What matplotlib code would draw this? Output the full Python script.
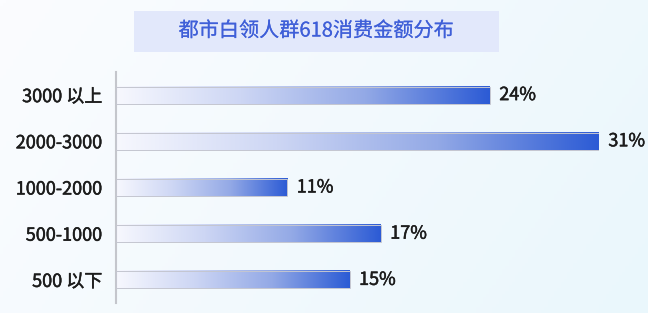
import numpy as np
import matplotlib.pyplot as plt
import matplotlib.patheffects as pe
from matplotlib.colors import LinearSegmentedColormap
from matplotlib.patches import Rectangle

plt.rcParams['font.family'] = ['Noto Sans CJK SC', 'DejaVu Sans']

# Data
categories = ['3000 以上', '2000-3000', '1000-2000', '500-1000', '500 以下']
shares = [24, 31, 11, 17, 15]
title = '都市白领人群618消费金额分布'

W, H = 648, 313
fig = plt.figure(figsize=(W / 100, H / 100), dpi=100)

# background gradient
bg = fig.add_axes([0, 0, 1, 1], zorder=0)
gx = np.linspace(0, 1, 200)
gy = np.linspace(0, 1, 100)
GX, GY = np.meshgrid(gx, gy)
g = np.clip(0.75 * GX + 0.25 * GY, 0, 1)
bg_cmap = LinearSegmentedColormap.from_list('bg', ['#fbfcff', '#eaf7fc'])
bg.imshow(g, cmap=bg_cmap, aspect='auto', extent=(0, 1, 0, 1), origin='upper')
bg.set_xlim(0, 1)
bg.set_ylim(0, 1)
bg.axis('off')

# title box
fig.patches.append(Rectangle((134 / W, 1 - 52 / H), 365 / W, 41 / H,
                             transform=fig.transFigure, facecolor='#e2e8fb',
                             edgecolor='none', zorder=1))
fig.text(316 / W, 1 - 31 / H, title, ha='center', va='center',
         fontsize=14.5, color='#3f5fd8', zorder=2,
         path_effects=[pe.withStroke(linewidth=0.1, foreground='#3f5fd8')])

# bars
ax = fig.add_axes([116 / W, 10 / H, (599 - 116) / W, 231 / H], zorder=2)
ax.patch.set_alpha(0)
y = np.arange(len(categories))
bar_h = 0.37
cmap = LinearSegmentedColormap.from_list(
    'bar', ['#f7f8fe', '#cdd6f4', '#93a9e6', '#2c5bd5'])
grad = np.linspace(0, 1, 256).reshape(1, -1)

# slightly heavier than regular, lighter than bold
medium = [pe.withStroke(linewidth=0.35, foreground='#1c1c1c')]

bars = ax.barh(y, shares, height=bar_h, facecolor='none',
               edgecolor='#c4c6d0', linewidth=0.7, zorder=3)
for rect, v in zip(bars, shares):
    x0, y0 = rect.get_x(), rect.get_y()
    ax.imshow(grad, cmap=cmap, aspect='auto',
              extent=(x0, x0 + v, y0 + rect.get_height(), y0), zorder=2)
    ax.text(v + 0.6, y0 + bar_h / 2, f'{v}%', va='center', ha='left',
            fontsize=13, color='#1c1c1c', clip_on=False, path_effects=medium)

ax.set_xlim(0, 31)
ax.set_ylim(len(categories) - 0.5, -0.5)
ax.set_yticks(y)
ax.set_yticklabels(categories, fontsize=13, color='#1c1c1c')
for lbl in ax.get_yticklabels():
    lbl.set_path_effects(medium)
ax.tick_params(axis='y', length=0, pad=10)
ax.set_xticks([])
for s in ['top', 'right', 'bottom']:
    ax.spines[s].set_visible(False)
ax.spines['left'].set_color('#c4c6cc')
ax.spines['left'].set_linewidth(1.5)

fig.savefig('out.png', dpi=100)
